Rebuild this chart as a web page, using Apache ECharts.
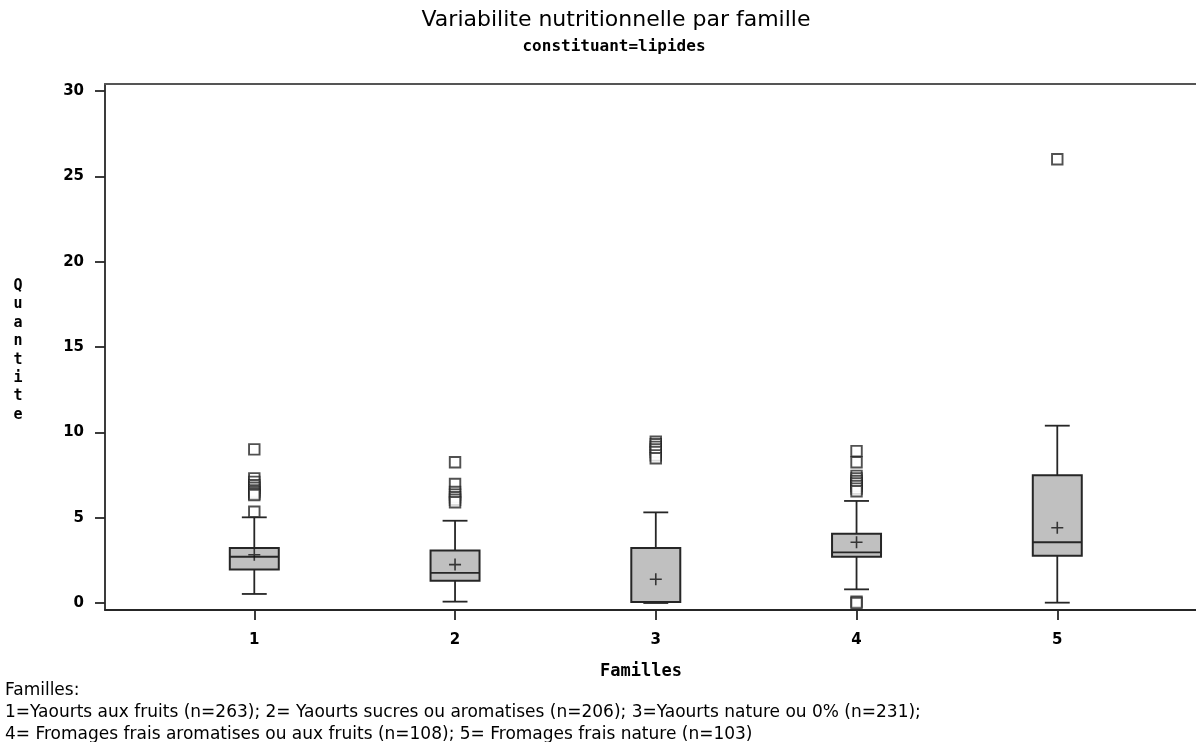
<!DOCTYPE html>
<html>
<head>
<meta charset="utf-8">
<script src="https://cdn.jsdelivr.net/npm/echarts@6/dist/echarts.min.js"></script>
<style>
html, body { margin: 0; padding: 0; background: #ffffff; }
#chart { width: 1196px; height: 742px; }
</style>
</head>
<body>
<div id="chart"></div>
<script>
// Lipid content per product family: box statistics, means and outliers
const familles = [1, 2, 3, 4, 5];
const yTicks = [0, 5, 10, 15, 20, 25, 30];

const whiskerLow  = [0.53, 0.08, 0.00, 0.80, 0.02];
const quartile1   = [1.97, 1.31, 0.06, 2.71, 2.77];
const mediane     = [2.71, 1.76, 0.06, 2.97, 3.56];
const quartile3   = [3.22, 3.07, 3.22, 4.06, 7.48];
const whiskerHigh = [5.02, 4.82, 5.31, 5.98, 10.39];
const moyennes    = [2.83, 2.25, 1.39, 3.56, 4.41];

const extremes1 = [9.0, 7.3, 7.1, 6.9, 6.75, 6.6, 6.5, 6.4, 6.33, 5.35];
const extremes2 = [8.25, 6.97, 6.5, 6.35, 6.2, 6.05, 5.9];
const extremes3 = [9.45, 9.3, 9.15, 9.0, 8.85, 8.65, 8.48];
const extremes4 = [8.9, 8.25, 7.45, 7.3, 7.15, 7.0, 6.85, 6.7, 6.55, 0.08, 0.0];
const extremes5 = [26.0];

const footnoteLines = [
  'Familles:',
  '1=Yaourts aux fruits (n=263); 2= Yaourts sucres ou aromatises (n=206); 3=Yaourts nature ou 0% (n=231);',
  '4= Fromages frais aromatises ou aux fruits (n=108); 5= Fromages frais nature (n=103)'
];

const boxData = familles.map((f, i) => [f, whiskerLow[i], quartile1[i], mediane[i], quartile3[i], whiskerHigh[i]]);
const meanData = familles.map((f, i) => [f, moyennes[i]]);
const outlierData = [];
[extremes1, extremes2, extremes3, extremes4, extremes5].forEach((list, i) => {
  list.forEach(v => outlierData.push([familles[i], v]));
});

const INK = '#262626';

function renderBox(params, api) {
  const x = api.value(0);
  const unit = api.size([1, 0])[0];
  const half = unit * 0.122;
  const capHalf = unit * 0.062;
  const pLow = api.coord([x, api.value(1)]);
  const pQ1 = api.coord([x, api.value(2)]);
  const pMed = api.coord([x, api.value(3)]);
  const pQ3 = api.coord([x, api.value(4)]);
  const pHigh = api.coord([x, api.value(5)]);
  const cx = pQ1[0];
  const line = { stroke: INK, lineWidth: 1.8, fill: null };
  return {
    type: 'group',
    children: [
      { type: 'line', shape: { x1: cx, y1: pQ3[1], x2: cx, y2: pHigh[1] }, style: line },
      { type: 'line', shape: { x1: cx, y1: pQ1[1], x2: cx, y2: pLow[1] }, style: line },
      { type: 'line', shape: { x1: cx - capHalf, y1: pHigh[1], x2: cx + capHalf, y2: pHigh[1] }, style: line },
      { type: 'line', shape: { x1: cx - capHalf, y1: pLow[1], x2: cx + capHalf, y2: pLow[1] }, style: line },
      { type: 'rect', shape: { x: cx - half, y: pQ3[1], width: 2 * half, height: pQ1[1] - pQ3[1] },
        style: { fill: '#c0c0c0', stroke: INK, lineWidth: 2 } },
      { type: 'line', shape: { x1: cx - half, y1: pMed[1], x2: cx + half, y2: pMed[1] }, style: line }
    ]
  };
}

const chart = echarts.init(document.getElementById('chart'), null, { renderer: 'canvas' });

chart.setOption({
  animation: false,
  backgroundColor: '#ffffff',
  grid: { left: 105, right: 0, top: 84, bottom: 132, containLabel: false, outerBoundsMode: 'none' },
  xAxis: [
    {
      type: 'value',
      min: 0.2563,
      max: 5.691,
      position: 'bottom',
      splitLine: { show: false },
      axisLine: { show: true, onZero: false, lineStyle: { color: INK, width: 1.8 } },
      axisTick: { show: true, customValues: familles, length: 10, lineStyle: { color: INK, width: 1.8 } },
      axisLabel: { show: true, customValues: familles, margin: 23, color: '#000',
        fontFamily: 'DejaVu Sans', fontWeight: 'bold', fontSize: 15 }
    },
    {
      type: 'value',
      min: 0.2563,
      max: 5.691,
      position: 'top',
      splitLine: { show: false },
      axisLine: { show: true, onZero: false, lineStyle: { color: '#555555', width: 2 } },
      axisTick: { show: false },
      axisLabel: { show: false }
    }
  ],
  yAxis: {
    type: 'value',
    min: -0.41,
    max: 30.41,
    splitLine: { show: false },
    axisLine: { show: true, onZero: false, lineStyle: { color: INK, width: 1.8 } },
    axisTick: { show: true, customValues: yTicks, length: 10, lineStyle: { color: INK, width: 1.8 } },
    axisLabel: { show: true, customValues: yTicks, margin: 21, color: '#000',
      fontFamily: 'DejaVu Sans', fontWeight: 'bold', fontSize: 15 }
  },
  series: [
    {
      type: 'custom',
      name: 'boites',
      xAxisIndex: 0,
      renderItem: renderBox,
      encode: { x: 0, y: [1, 2, 3, 4, 5] },
      data: boxData,
      z: 2,
      clip: false
    },
    {
      type: 'scatter',
      name: 'extremes',
      xAxisIndex: 0,
      data: outlierData,
      symbol: 'rect',
      symbolSize: 10.5,
      itemStyle: { color: '#ffffff', borderColor: INK, borderWidth: 1.9 },
      z: 3,
      clip: false
    },
    {
      type: 'scatter',
      name: 'moyennes',
      xAxisIndex: 0,
      data: meanData,
      symbol: 'path://M0,5.2L12,5.2L12,6.8L0,6.8Z M5.2,0L6.8,0L6.8,12L5.2,12Z',
      symbolSize: 12,
      itemStyle: { color: '#111111' },
      z: 4,
      clip: false
    }
  ],
  graphic: [
    { type: 'text', x: 616, y: 20,
      style: { text: 'Variabilite nutritionnelle par famille', fill: '#000', font: '22px "DejaVu Sans"', align: 'center', verticalAlign: 'middle' } },
    { type: 'text', x: 614, y: 47,
      style: { text: 'constituant=lipides', fill: '#000', font: 'bold 16px "DejaVu Sans Mono"', align: 'center', verticalAlign: 'middle' } },
    { type: 'text', x: 18, y: 277,
      style: { text: 'Q\nu\na\nn\nt\ni\nt\ne', fill: '#000', font: 'bold 15px "DejaVu Sans Mono"', lineHeight: 18.4, align: 'center', verticalAlign: 'top' } },
    { type: 'text', x: 641, y: 672,
      style: { text: 'Familles', fill: '#000', font: 'bold 17px "DejaVu Sans Mono"', align: 'center', verticalAlign: 'middle' } },
    { type: 'text', x: 5, y: 691,
      style: { text: footnoteLines[0], fill: '#000', font: '17px "DejaVu Sans"', align: 'left', verticalAlign: 'middle' } },
    { type: 'text', x: 5, y: 713,
      style: { text: footnoteLines[1], fill: '#000', font: '17px "DejaVu Sans"', align: 'left', verticalAlign: 'middle' } },
    { type: 'text', x: 5, y: 735,
      style: { text: footnoteLines[2], fill: '#000', font: '17px "DejaVu Sans"', align: 'left', verticalAlign: 'middle' } }
  ]
});
</script>
</body>
</html>
